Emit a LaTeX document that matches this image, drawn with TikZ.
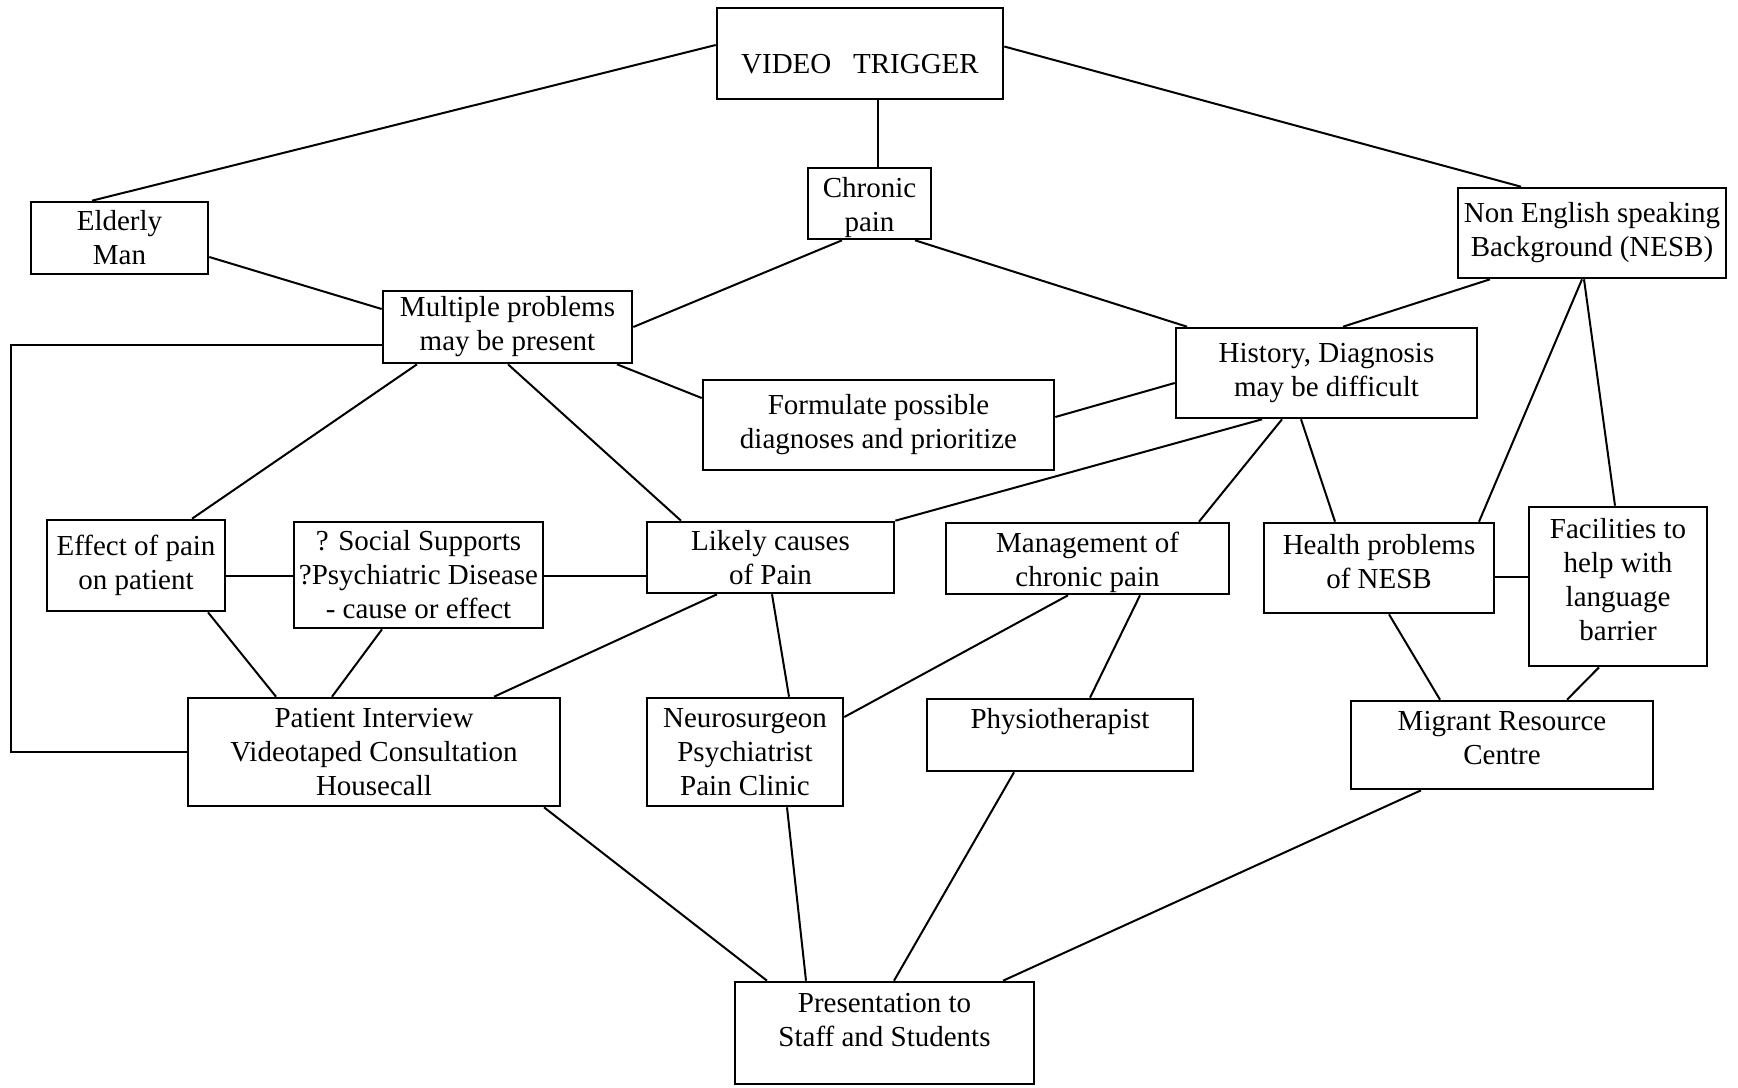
\documentclass[tikz,border=0pt]{standalone}
\usepackage{fontspec}
\setmainfont{Liberation Serif}
\usetikzlibrary{calc}
\begin{document}
\begin{tikzpicture}[x=0.5pt,y=-0.5pt,
  box/.style={draw, line width=1.3pt, align=center, inner xsep=1pt, inner ysep=0pt,
    font=\fontsize{14.5}{17}\selectfont},
  link/.style={line width=1pt}]
\useasboundingbox (0,0) rectangle (1738,1087);
\fill[white] (0,0) rectangle (1738,1087);

\node[box, minimum width=143pt, minimum height=45.5pt] (video) at (860,53.5) {\mbox{}\\[3.6pt]VIDEO\hspace{0.75em}TRIGGER};
\node[box, minimum width=88.5pt, minimum height=36pt] (elderly) at (119.5,238) {Elderly\\Man};
\node[box, minimum width=61.5pt, minimum height=35.5pt] (chronic) at (869.5,203.5) {\mbox{}\\[-2.7pt]Chronic\\pain};
\node[box, minimum width=134pt, minimum height=45pt] (nesb) at (1592,233) {Non English speaking\\Background (NESB)};
\node[box, minimum width=124.5pt, minimum height=36pt] (multiple) at (507.5,327) {Multiple problems\\may be present};
\node[box, minimum width=150.5pt, minimum height=45pt] (history) at (1326.5,373) {History, Diagnosis\\may be difficult};
\node[box, minimum width=175.5pt, minimum height=45pt] (formulate) at (878.5,425) {Formulate possible\\diagnoses and prioritize};
\node[box, minimum width=89pt, minimum height=45.5pt] (effect) at (136,565.5) {Effect of pain\\on patient};
\node[box, minimum width=124.5pt, minimum height=53pt] (social) at (418.5,575) {? Social Supports\\?Psychiatric Disease\\- cause or effect};
\node[box, minimum width=123.5pt, minimum height=35.5pt] (likely) at (770.5,557.5) {Likely causes\\of Pain};
\node[box, minimum width=141.5pt, minimum height=35.5pt] (management) at (1087.5,558.5) {\mbox{}\\[-2.7pt]Management of\\chronic pain};
\node[box, minimum width=115pt, minimum height=45pt] (health) at (1379,568) {Health problems\\of NESB\\[-10pt]\mbox{}};
\node[box, minimum width=89pt, minimum height=79.5pt] (facilities) at (1618,586.5) {Facilities to\\help with\\language\\barrier\\[-10pt]\mbox{}};
\node[box, minimum width=186pt, minimum height=54pt] (patient) at (374,752) {Patient Interview\\Videotaped Consultation\\Housecall};
\node[box, minimum width=98pt, minimum height=54pt] (neuro) at (745,752) {Neurosurgeon\\Psychiatrist\\Pain Clinic};
\node[box, minimum width=133pt, minimum height=36pt] (physio) at (1060,735) {Physiotherapist\\\mbox{}};
\node[box, minimum width=151pt, minimum height=44pt] (migrant) at (1502,745) {Migrant Resource\\Centre\\[-10pt]\mbox{}};
\node[box, minimum width=149.5pt, minimum height=51pt] (presentation) at (884.5,1033) {Presentation to\\Staff and Students\\[-4pt]\mbox{}};

% connectors
\draw[link] ($(video.west)+(0,-8.5)$) -- ($(elderly.north)+(-27.5,0)$);
\draw[link] ($(video.south)+(18,0)$) -- ($(chronic.north)+(8.5,0)$);
\draw[link] ($(video.east)+(0,-7)$) -- ($(nesb.north)+(-71,0)$);
\draw[link] ($(elderly.east)+(0,19)$) -- ($(multiple.west)+(0,-18)$);
\draw[link] ($(chronic.south)+(-27.5,0)$) -- (multiple.east);
\draw[link] ($(chronic.south)+(45.5,0)$) -- ($(history.north)+(-139.5,0)$);
\draw[link] ($(nesb.south)+(-102,0)$) -- ($(history.north)+(16.5,0)$);
\draw[link] ($(formulate.east)+(0,-8)$) -- ($(history.west)+(0,10)$);
\draw[link] ($(multiple.south)+(109.5,0)$) -- ($(formulate.west)+(0,-27)$);
\draw[link] ($(multiple.south)+(-90.5,0)$) -- ($(effect.north)+(56,0)$);
\draw[link] ($(multiple.south)+(0.5,0)$) -- ($(likely.north)+(-89.5,0)$);
\coordinate (loopx) at (11,0);
\coordinate (ms) at ($(multiple.west)+(0,18)$);
\draw[link] (ms) -- (ms -| loopx) |- (patient.west);
\draw[link] ($(effect.east)+(0,10.5)$) -- ($(social.west)+(0,1)$);
\draw[link] ($(social.east)+(0,1)$) -- ($(likely.west)+(0,18.5)$);
\draw[link] ($(effect.south)+(72,0)$) -- ($(patient.north)+(-98,0)$);
\draw[link] ($(social.south)+(-36.5,0)$) -- ($(patient.north)+(-42,0)$);
\draw[link] ($(likely.south)+(-53.5,0)$) -- ($(patient.north)+(120,0)$);
\draw[link] ($(likely.south)+(1.5,0)$) -- ($(neuro.north)+(44,0)$);
\draw[link] ($(history.south)+(-64.5,0)$) -- (likely.north east);
\draw[link] ($(history.south)+(-44.5,0)$) -- ($(management.north)+(111.5,0)$);
\draw[link] ($(history.south)+(-25.5,0)$) -- ($(health.north)+(-44,0)$);
\draw[link] ($(nesb.south)+(-10,0)$) -- ($(health.north)+(100,0)$);
\draw[link] ($(nesb.south)+(-8,0)$) -- ($(facilities.north)+(-3,0)$);
\draw[link] ($(health.east)+(0,9)$) -- ($(facilities.west)+(0,-9.5)$);
\draw[link] ($(management.south)+(-19.5,0)$) -- ($(neuro.east)+(0,-35)$);
\draw[link] ($(management.south)+(52.5,0)$) -- ($(physio.north)+(30,0)$);
\draw[link] ($(health.south)+(10,0)$) -- ($(migrant.north)+(-62,0)$);
\draw[link] ($(facilities.south)+(-19,0)$) -- ($(migrant.north)+(65,0)$);
\draw[link] ($(patient.south)+(170,0)$) -- ($(presentation.north)+(-117.5,0)$);
\draw[link] ($(neuro.south)+(42,0)$) -- ($(presentation.north)+(-78.5,0)$);
\draw[link] ($(physio.south)+(-46,0)$) -- ($(presentation.north)+(9.5,0)$);
\draw[link] ($(migrant.south)+(-81,0)$) -- ($(presentation.north)+(118.5,0)$);
\end{tikzpicture}
\end{document}
